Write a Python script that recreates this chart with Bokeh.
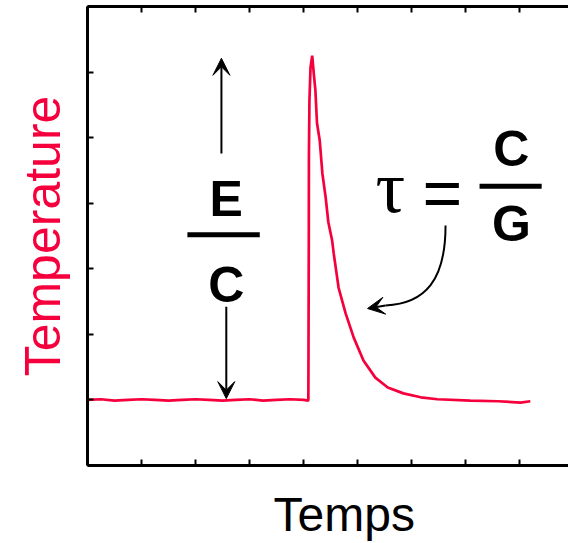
from bokeh.plotting import figure
from bokeh.models import Range1d, LinearAxis, FixedTicker, Label, Arrow, VeeHead, ColumnDataSource, Title
from bokeh.embed import file_html
from bokeh.resources import INLINE

# ---- data ----
time = [0.0, 0.25, 0.5, 0.75, 1.0, 1.25, 1.5, 1.75, 2.0, 2.25, 2.5, 2.75, 3.0, 3.25, 3.5, 3.75, 4.0, 4.09,
        4.098, 4.10, 4.11, 4.13, 4.161, 4.19, 4.22, 4.25, 4.30, 4.35, 4.41, 4.46, 4.53, 4.56, 4.65, 4.78,
        4.93, 5.11, 5.33, 5.56, 5.85, 6.17, 6.48, 7.09, 7.6, 8.02, 8.20]
temperature = [1.00, 1.01, 0.99, 1.00, 1.01, 1.00, 0.99, 1.00, 1.01, 1.00, 0.99, 1.00, 1.01, 0.99, 1.00, 1.01, 1.00, 0.99,
               3.43, 4.70, 5.57, 6.07, 6.25, 5.98, 5.72, 5.22, 4.96, 4.45, 4.09, 3.71, 3.43, 3.23, 2.71, 2.32,
               1.95, 1.60, 1.34, 1.19, 1.10, 1.04, 1.01, 0.99, 0.98, 0.96, 0.98]
x_ticks = [0, 1, 2, 3, 4, 5, 6, 7, 8]
y_ticks = [0, 1, 2, 3, 4, 5, 6, 7]

# annotation anchors (data units)
up_arrow = dict(x=2.48, y0=4.76, y1=6.21)
down_arrow = dict(x=2.57, y0=2.42, y1=1.02)
frac_left = dict(x=2.57, num_y=4.06, den_y=2.76, bar_x0=1.85, bar_x1=3.19, bar_y=3.52)
frac_right = dict(x=7.85, num_y=4.83, den_y=3.68, bar_x0=7.26, bar_x1=8.41, bar_y=4.26)
tau_pos = dict(x=5.61, y=4.25)
eq_pos = dict(x=6.57, y=4.15)
curve = dict(x0=6.63, y0=3.66, cx0=6.63, cy0=2.83, cx1=6.26, cy1=2.47, x1=5.52, y1=2.44)
curve_head = dict(x0=5.52, y0=2.44, x1=5.185, y1=2.394)

RED = "#F5003D"

p = figure(width=568, height=543, output_backend="svg", toolbar_location=None,
           x_range=Range1d(0, 8.907), y_range=Range1d(0, 7),
           min_border_left=87, min_border_right=0, min_border_top=6, min_border_bottom=78)
p.outline_line_color = None
p.grid.visible = False
p.background_fill_color = "white"
p.border_fill_color = "white"

def style_axis(ax, ticks, standoff=0):
    ax.ticker = FixedTicker(ticks=ticks)
    ax.axis_line_width = 3
    ax.axis_line_color = "black"
    ax.major_tick_in = 6
    ax.major_tick_out = 0
    ax.major_tick_line_width = 2
    ax.minor_tick_line_color = None
    ax.major_label_overrides = {t: "" for t in ticks}
    ax.major_label_standoff = standoff

style_axis(p.xaxis[0], x_ticks)
style_axis(p.yaxis[0], y_ticks)
top = LinearAxis()
style_axis(top, x_ticks)
p.add_layout(top, "above")

p.yaxis.axis_label = "Temperature"
p.yaxis.axis_label_text_font = "Liberation Sans"
p.yaxis.axis_label_text_font_size = "50px"
p.yaxis.axis_label_text_font_style = "normal"
p.yaxis.axis_label_text_color = RED
p.yaxis.axis_label_standoff = 17

p.add_layout(Title(text="Temps", align="left", offset=186, vertical_align="bottom", standoff=0,
                   padding=dict(left=0, right=0, top=20, bottom=0),
                   text_font="Liberation Sans", text_font_size="48px", text_font_style="normal",
                   text_color="black"), "below")

src = ColumnDataSource(dict(t=time, T=temperature))
p.line("t", "T", source=src, line_color=RED, line_width=2.7)

# vertical arrows
for a in (up_arrow, down_arrow):
    p.add_layout(Arrow(end=VeeHead(size=17, fill_color="black", line_color="black", line_width=1),
                       x_start=a["x"], y_start=a["y0"], x_end=a["x"], y_end=a["y1"],
                       line_width=2, line_color="black"))

# fractions
bold = dict(text_font="Liberation Sans", text_font_style="bold", text_font_size="50px",
            text_align="center", text_baseline="middle", text_color="black")
for f, num, den in ((frac_left, "E", "C"), (frac_right, "C", "G")):
    p.add_layout(Label(x=f["x"], y=f["num_y"], text=num, **bold))
    p.add_layout(Label(x=f["x"], y=f["den_y"], text=den, **bold))
p.segment(x0=[frac_left["bar_x0"], frac_right["bar_x0"]], y0=[frac_left["bar_y"], frac_right["bar_y"]],
          x1=[frac_left["bar_x1"], frac_right["bar_x1"]], y1=[frac_left["bar_y"], frac_right["bar_y"]],
          line_color="black", line_width=5)

p.add_layout(Label(x=tau_pos["x"], y=tau_pos["y"], text="τ", text_font="Liberation Serif",
                   text_font_size="74px", text_align="center", text_baseline="middle", text_color="black"))
p.add_layout(Label(x=eq_pos["x"], y=eq_pos["y"], text="=", text_font="Liberation Sans",
                   text_font_size="68px", text_align="center", text_baseline="middle", text_color="black"))

# curved arrow
p.bezier(x0=[curve["x0"]], y0=[curve["y0"]], x1=[curve["x1"]], y1=[curve["y1"]],
         cx0=[curve["cx0"]], cy0=[curve["cy0"]], cx1=[curve["cx1"]], cy1=[curve["cy1"]],
         line_color="black", line_width=2)
p.add_layout(Arrow(end=VeeHead(size=17, fill_color="black", line_color="black", line_width=1),
                   x_start=curve_head["x0"], y_start=curve_head["y0"],
                   x_end=curve_head["x1"], y_end=curve_head["y1"], line_width=2, line_color="black"))

open("out.html", "w").write(file_html(p, INLINE))
